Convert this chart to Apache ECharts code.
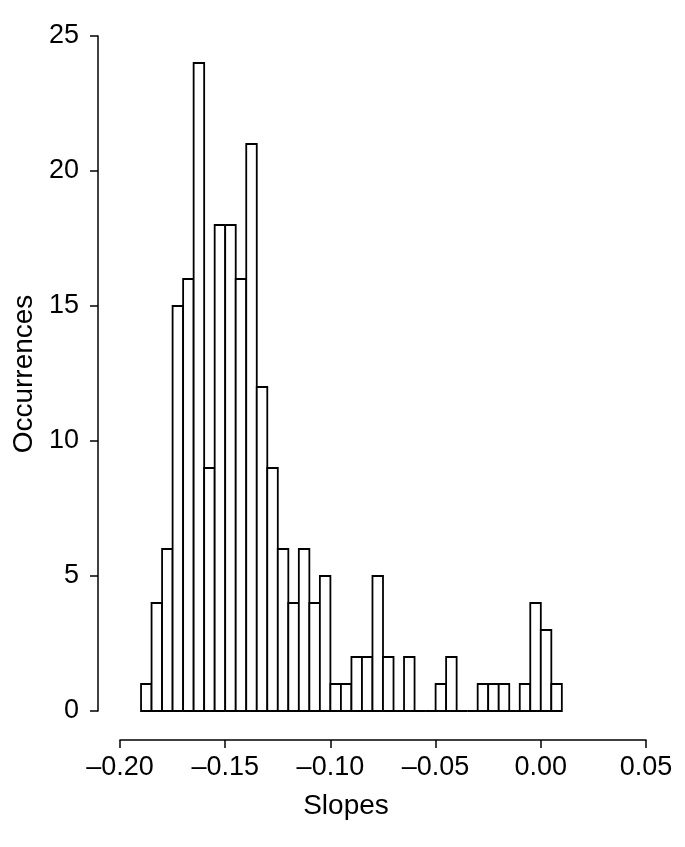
<!DOCTYPE html>
<html>
<head>
<meta charset="utf-8">
<script src="https://cdn.jsdelivr.net/npm/echarts@6/dist/echarts.min.js"></script>
<style>html,body{margin:0;padding:0;background:#fff;}#c{width:685px;height:847px;}</style>
</head>
<body>
<div id="c"></div>
<script>
const binStart = -0.19;
const binWidth = 0.005;
const counts = [1,4,6,15,16,24,9,18,18,16,21,12,9,6,4,6,4,5,1,1,2,2,5,2,0,2,0,0,1,2,0,0,1,1,1,0,1,4,3,1];
const xTicks = [-0.20,-0.15,-0.10,-0.05,0.00,0.05];
const yTicks = [0,5,10,15,20,25];
const xTitle = 'Slopes';
const yTitle = 'Occurrences';

const data = counts.map((c,i)=>[binStart+i*binWidth, binStart+(i+1)*binWidth, c]);
const fmtX = v => (v<0?'\u2013':'') + Math.abs(v).toFixed(2);
const font = 'Liberation Sans';

const chart = echarts.init(document.getElementById('c'));
chart.setOption({
  animation:false,
  grid:{left:120,right:39,top:36,bottom:136},
  xAxis:{type:'value',min:xTicks[0],max:xTicks[xTicks.length-1],interval:0.05,offset:29,
    axisLine:{show:true,onZero:false,lineStyle:{color:'#000',width:1.5}},
    axisTick:{show:true,length:8,lineStyle:{color:'#000',width:1.5}},
    splitLine:{show:false},
    axisLabel:{color:'#000',fontSize:27,fontFamily:font,margin:14,formatter:fmtX,showMinLabel:true,showMaxLabel:true}},
  yAxis:{type:'value',min:yTicks[0],max:yTicks[yTicks.length-1],interval:5,offset:22,
    axisLine:{show:true,onZero:false,lineStyle:{color:'#000',width:1.5}},
    axisTick:{show:true,length:8,lineStyle:{color:'#000',width:1.5}},
    splitLine:{show:false},
    axisLabel:{color:'#000',fontSize:27,fontFamily:font,margin:19,showMinLabel:true,showMaxLabel:true}},
  graphic:[
    {type:'text',x:346,y:806,style:{text:xTitle,fill:'#000',font:'28px "Liberation Sans"',textAlign:'center',textVerticalAlign:'middle'}},
    {type:'text',x:24,y:374,rotation:Math.PI/2,style:{text:yTitle,fill:'#000',font:'28px "Liberation Sans"',textAlign:'center',textVerticalAlign:'middle'}}
  ],
  series:[{type:'custom',data:data,
    renderItem:(params,api)=>{
      const p0 = api.coord([api.value(0), 0]);
      const p1 = api.coord([api.value(1), api.value(2)]);
      return {type:'rect',shape:{x:p0[0],y:p1[1],width:p1[0]-p0[0],height:p0[1]-p1[1]},
        style:{fill:'#fff',stroke:'#000',lineWidth:1.8}};
    }}]
});
</script>
</body>
</html>
